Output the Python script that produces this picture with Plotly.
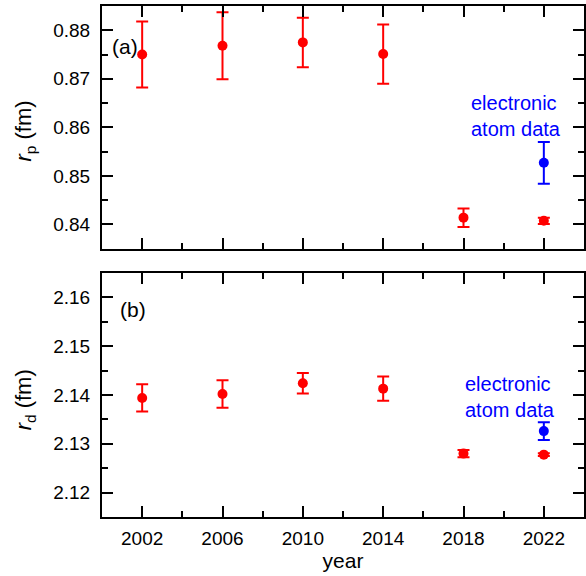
import plotly.graph_objects as go

# ---- data ----
years = [2002, 2006, 2010, 2014, 2018, 2022]
rp = [0.8750, 0.8768, 0.8775, 0.8751, 0.8414, 0.84075]
rp_err = [0.0068, 0.0069, 0.0051, 0.0061, 0.0019, 0.00064]
rd = [2.1394, 2.1402, 2.1424, 2.1413, 2.12799, 2.12778]
rd_err = [0.0028, 0.0028, 0.0021, 0.0025, 0.00074, 0.00027]
elec_year = [2022]
elec_rp = [0.8527]
elec_rp_err = [0.0043]
elec_rd = [2.1326]
elec_rd_err = [0.0018]
xtick_years = [2002, 2006, 2010, 2014, 2018, 2022]

RED = "#FF0000"
BLUE = "#0000FF"
FONT = "Liberation Sans, Arial, sans-serif"

fig = go.Figure()

def add_series(x, y, e, color, xa, ya):
    fig.add_trace(go.Scatter(
        x=x, y=y, mode="markers", xaxis=xa, yaxis=ya,
        marker=dict(color=color, size=10, symbol="circle"),
        error_y=dict(type="data", array=e, visible=True, color=color,
                     thickness=2, width=6),
        showlegend=False, cliponaxis=False))

add_series(years, rp, rp_err, RED, "x", "y")
add_series(elec_year, elec_rp, elec_rp_err, BLUE, "x", "y")
add_series(years, rd, rd_err, RED, "x2", "y2")
add_series(elec_year, elec_rd, elec_rd_err, BLUE, "x2", "y2")

tickfont = dict(family=FONT, size=19, color="black")
common_x = dict(range=[2000, 2024], tickvals=xtick_years,
                ticks="inside", ticklen=11, tickwidth=2, tickcolor="black",
                minor=dict(dtick=2, tick0=2000, ticks="inside", ticklen=6, tickwidth=2, tickcolor="black"),
                showline=True, linewidth=2, linecolor="black", mirror="ticks",
                showgrid=False, zeroline=False, tickfont=tickfont)
common_y = dict(ticks="inside", ticklen=11, tickwidth=2, tickcolor="black",
                showline=True, linewidth=2, linecolor="black", mirror="ticks",
                showgrid=False, zeroline=False, tickfont=tickfont, ticklabelstandoff=6)

fig.update_layout(
    width=586, height=576,
    margin=dict(l=102, r=0, t=6, b=59),
    paper_bgcolor="white", plot_bgcolor="white",
    font=dict(family=FONT, color="black"),
    xaxis=dict(**common_x, anchor="y", domain=[0, 1], showticklabels=False, matches="x2"),
    yaxis=dict(**common_y, domain=[0.525, 1], range=[0.835, 0.885], dtick=0.01, tick0=0.84,
               tickformat=".2f",
               minor=dict(dtick=0.005, ticks="inside", ticklen=6, tickwidth=2, tickcolor="black")),
    xaxis2=dict(**common_x, anchor="y2", domain=[0, 1], ticklabelstandoff=3,
                title=dict(text="year", font=dict(family=FONT, size=21), standoff=2)),
    yaxis2=dict(**common_y, domain=[0, 0.4775], range=[2.115, 2.165], dtick=0.01, tick0=2.12,
                tickformat=".2f",
                minor=dict(dtick=0.005, ticks="inside", ticklen=6, tickwidth=2, tickcolor="black")),
)

# y-axis titles as rotated annotations
fig.add_annotation(x=-0.159, y=0.755, xref="paper", yref="paper", text="<i>r</i><sub>p</sub> (fm)",
                   textangle=-90, showarrow=False, xanchor="center", yanchor="middle",
                   font=dict(family=FONT, size=22, color="black"))
fig.add_annotation(x=-0.159, y=0.229, xref="paper", yref="paper", text="<i>r</i><sub>d</sub> (fm)",
                   textangle=-90, showarrow=False, xanchor="center", yanchor="middle",
                   font=dict(family=FONT, size=22, color="black"))

fig.add_annotation(x=2000.4, y=0.8767, xref="x", yref="y", text="(a)", showarrow=False,
                   xanchor="left", yanchor="middle", font=dict(family=FONT, size=21, color="black"))
fig.add_annotation(x=2000.8, y=2.1575, xref="x2", yref="y2", text="(b)", showarrow=False,
                   xanchor="left", yanchor="middle", font=dict(family=FONT, size=21, color="black"))
fig.add_annotation(x=2018.28, y=0.86227, xref="x", yref="y", text="electronic<br>atom data",
                   showarrow=False, xanchor="left", yanchor="middle", align="left",
                   font=dict(family=FONT, size=20, color=BLUE))
fig.add_annotation(x=2017.95, y=2.13956, xref="x2", yref="y2", text="electronic<br>atom data",
                   showarrow=False, xanchor="left", yanchor="middle", align="left",
                   font=dict(family=FONT, size=20, color=BLUE))

fig.write_html("out.html", config={"displayModeBar": False},
               post_script="document.body.style.margin='0px';document.body.style.padding='0px';"
                           "document.body.style.overflow='hidden';")
